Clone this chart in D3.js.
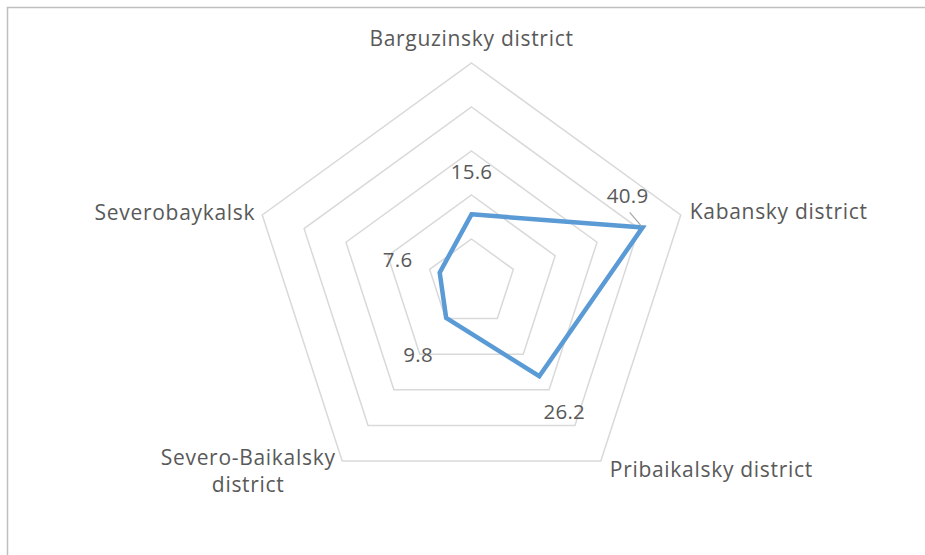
<!DOCTYPE html>
<html>
<head>
<meta charset="utf-8">
<script src="https://cdn.jsdelivr.net/npm/d3@7"></script>
<style>
  body { margin: 0; background: #fff; }
  text { font-family: "Open Sans", Lato, sans-serif; fill: #595959; }
</style>
</head>
<body>
<div id="chart"></div>
<script>
let w = 925;
let h = 555;

// chart data
const categories = ["Barguzinsky district", "Kabansky district", "Pribaikalsky district", "Severo-Baikalsky district", "Severobaykalsk"];
const values = [15.6, 40.9, 26.2, 9.8, 7.6];
const ringTicks = [10, 20, 30, 40, 50];

// label placement (pixel offsets from the point / outer vertex)
const valueLabelOffsets = [[0, -35], [-15, -24], [25, 43], [-28, 44], [-42, -6]];
const catLabelOffsets = [[0, -17], [9, 4], [9, 16], [-94, 4], [-7, 5]];
const catAnchors = ["middle", "start", "start", "middle", "end"];

const cx = 471.5, cy = 283, R = 220;

const r = d3.scaleLinear().domain([0, 50]).range([0, R]);
const angle = d3.scaleLinear().domain([0, categories.length]).range([0, 2 * Math.PI]);

function pt(i, v) {
  const a = angle(i);
  return [cx + r(v) * Math.sin(a), cy - r(v) * Math.cos(a)];
}

var svg = d3.select("#chart").append("svg").attr("width", w).attr("height", h);

// outer frame
svg.append("rect")
  .attr("x", 7.5).attr("y", 7.5)
  .attr("width", w).attr("height", h)
  .attr("fill", "none").attr("stroke", "#bfbfbf").attr("stroke-width", 1.5);

// grid rings
svg.selectAll("polygon.ring")
  .data(ringTicks)
  .enter()
  .append("polygon")
  .attr("class", "ring")
  .attr("points", t => categories.map((c, i) => pt(i, t).join(",")).join(" "))
  .attr("fill", "none")
  .attr("stroke", "#d9d9d9")
  .attr("stroke-width", 1.5);

// series line
const line = d3.line().curve(d3.curveLinearClosed);
svg.append("path")
  .attr("d", line(values.map((v, i) => pt(i, v))))
  .attr("fill", "none")
  .attr("stroke", "#5b9bd5")
  .attr("stroke-width", 4.5)
  .attr("stroke-linejoin", "miter");

// leader line for the 40.9 label
const p1 = pt(1, values[1]);
svg.append("line")
  .attr("x1", p1[0] - 13).attr("y1", p1[1] - 15)
  .attr("x2", p1[0] - 1).attr("y2", p1[1] - 1)
  .attr("stroke", "#a6a6a6").attr("stroke-width", 1.2);

// value labels
svg.selectAll("text.val")
  .data(values)
  .enter()
  .append("text")
  .attr("class", "val")
  .attr("x", (d, i) => pt(i, d)[0] + valueLabelOffsets[i][0])
  .attr("y", (d, i) => pt(i, d)[1] + valueLabelOffsets[i][1])
  .attr("text-anchor", "middle")
  .style("font-size", "20.5px")
  .style("letter-spacing", "0.3px")
  .text(d => d.toFixed(1));

// category labels
svg.selectAll("text.cat")
  .data(categories)
  .enter()
  .append("text")
  .attr("class", "cat")
  .attr("text-anchor", (d, i) => catAnchors[i])
  .style("font-size", "21px")
  .style("letter-spacing", "0.7px")
  .each(function (d, i) {
    const p = pt(i, 50);
    const x = p[0] + catLabelOffsets[i][0];
    const y = p[1] + catLabelOffsets[i][1];
    const lines = d === "Severo-Baikalsky district" ? ["Severo-Baikalsky", "district"] : [d];
    d3.select(this).selectAll("tspan")
      .data(lines)
      .enter()
      .append("tspan")
      .attr("x", x)
      .attr("y", (l, j) => y + j * 27)
      .text(l => l);
  });
</script>
</body>
</html>
